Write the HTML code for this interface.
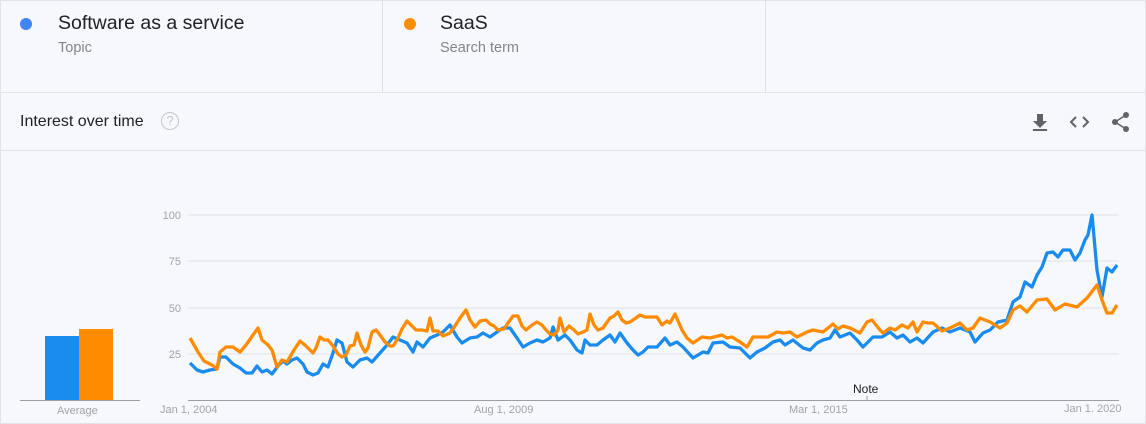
<!DOCTYPE html>
<html><head><meta charset="utf-8"><style>
body{margin:0;width:1146px;height:424px;background:#f6f8fc;font-family:"Liberation Sans",Arial,sans-serif;overflow:hidden;position:relative}
.b{position:absolute}
</style></head><body>
<div class="b" style="left:0;top:0;width:1144px;height:422px;border:1px solid #dfe3ea"></div>
<div class="b" style="left:0;top:92px;width:1146px;height:1px;background:#e2e6ec"></div>
<div class="b" style="left:382px;top:0;width:1px;height:92px;background:#dcdfe4"></div>
<div class="b" style="left:765px;top:0;width:1px;height:92px;background:#dcdfe4"></div>
<div class="b" style="left:0;top:150px;width:1146px;height:1px;background:#dfe3ea"></div>
<div class="b" style="left:20px;top:18px;width:12px;height:12px;border-radius:50%;background:#4285f4"></div>
<div class="b" style="left:58px;top:12px;font-size:19.5px;color:#202124">Software as a service</div>
<div class="b" style="left:58px;top:40px;font-size:14.5px;color:#80868b">Topic</div>
<div class="b" style="left:404px;top:18px;width:12px;height:12px;border-radius:50%;background:#ff8c00"></div>
<div class="b" style="left:440px;top:12px;font-size:19.5px;color:#202124">SaaS</div>
<div class="b" style="left:440px;top:40px;font-size:14.5px;color:#80868b">Search term</div>
<div class="b" style="left:20px;top:113px;font-size:16px;color:#202124">Interest over time</div>
<div class="b" style="left:161px;top:112px;width:16px;height:16px;border:1.5px solid #c4c7cc;border-radius:50%;color:#c4c7cc;font-size:13px;text-align:center;line-height:16px">?</div>
<svg class="b" style="left:0;top:0" width="1146" height="424">
<g fill="#5f6368">
<path d="M1037 114h6v7h4l-7 7-7-7h4z"/><rect x="1033" y="129" width="14" height="2"/>
</g>
<path d="M1076 117l-5 5 5 5M1083 117l5 5-5 5" stroke="#5f6368" stroke-width="2" fill="none"/>
<g fill="#5f6368"><circle cx="1126" cy="115" r="3"/><circle cx="1115" cy="122" r="3"/><circle cx="1126" cy="129" r="3"/></g>
<path d="M1126 115L1115 122L1126 129" stroke="#5f6368" stroke-width="1.5" fill="none"/>
<g stroke="#dfe2e7" stroke-width="1"><line x1="188" y1="215" x2="1119" y2="215"/><line x1="188" y1="261" x2="1119" y2="261"/><line x1="188" y1="308" x2="1119" y2="308"/><line x1="188" y1="354" x2="1119" y2="354"/></g>
<line x1="188" y1="400.5" x2="1119" y2="400.5" stroke="#9aa0a6" stroke-width="1"/>
<line x1="867" y1="396" x2="867" y2="401" stroke="#9aa0a6"/>
<line x1="20" y1="400.5" x2="140" y2="400.5" stroke="#9aa0a6"/>
<g font-size="11" fill="#a0a4aa" text-anchor="end"><text x="181" y="219">100</text><text x="181" y="265">75</text><text x="181" y="312">50</text><text x="181" y="358">25</text></g>
<g font-size="11" fill="#a0a4aa"><text x="160" y="413">Jan 1, 2004</text><text x="474" y="413">Aug 1, 2009</text><text x="789" y="413">Mar 1, 2015</text><text x="1064" y="412">Jan 1. 2020</text><text x="57" y="414">Average</text></g>
<text x="853" y="393" font-size="12" fill="#202124">Note</text>
<rect x="45" y="336" width="34" height="64" fill="#1a8cf0"/>
<rect x="79" y="329" width="34" height="71" fill="#ff8c00"/>
<polyline fill="none" stroke="#1a8cf0" stroke-width="3.3" stroke-linejoin="round" points="190,363 197,370 203,372 210,370 217,369 220,357 226,357 233,364 240,368 246,373 252,373 257,366 262,372 267,370 272,374 278,366 283,361 287,364 292,360 297,358 303,364 307,372 313,375 318,373 323,364 328,367 333,353 337,340 342,343 347,362 353,367 360,360 367,358 372,362 380,353 387,345 393,337 400,340 407,343 413,352 417,342 423,347 430,338 437,335 443,332 450,325 457,337 462,343 470,338 477,337 483,333 490,337 497,332 503,328 510,328 517,338 523,347 530,343 537,340 543,342 550,338 553,327 558,340 565,335 570,340 577,350 582,353 585,340 590,345 597,345 603,340 610,335 615,342 620,333 627,343 633,350 638,355 643,352 648,347 657,347 665,338 670,345 677,342 683,347 693,358 703,352 708,353 713,343 723,342 730,347 740,348 750,358 757,352 765,348 773,342 780,340 785,345 793,340 803,348 810,350 817,343 823,340 830,338 835,330 840,337 850,333 857,340 863,347 873,337 882,337 890,332 897,338 903,335 910,342 917,338 923,343 933,332 942,328 950,332 960,328 970,332 975,342 983,333 990,330 998,322 1007,320 1013,302 1020,297 1025,282 1032,287 1037,275 1042,267 1047,253 1053,252 1058,257 1063,250 1070,250 1075,260 1080,253 1085,240 1088,235 1092,215 1097,270 1102,297 1107,268 1112,272 1117,265"/>
<polyline fill="none" stroke="#ff8c00" stroke-width="3.3" stroke-linejoin="round" points="190,338 198,352 204,361 212,365 217,369 220,352 226,347 233,347 240,352 246,345 253,335 258,328 262,340 268,345 272,350 277,367 282,360 287,362 294,350 300,341 306,346 313,353 316,348 320,337 324,340 328,340 333,346 338,354 342,357 346,355 350,346 354,345 357,333 361,345 365,352 368,348 372,332 376,330 380,335 385,342 390,346 393,346 397,340 402,329 407,321 412,326 416,330 422,330 427,331 430,318 433,331 438,331 443,336 450,333 455,326 460,318 466,310 470,320 475,327 480,321 486,320 490,324 494,326 498,330 504,329 508,323 513,316 518,316 522,326 526,330 532,325 537,322 542,325 546,330 550,334 554,335 558,330 560,318 564,332 569,326 574,330 578,334 583,332 587,330 590,314 594,325 598,330 603,328 610,318 614,316 618,312 622,320 626,323 630,322 636,318 640,315 645,317 650,317 657,317 662,325 667,321 670,323 675,314 682,330 687,338 693,343 702,337 710,338 722,335 727,338 732,337 740,342 747,347 753,337 768,337 777,332 783,333 790,332 797,337 807,332 813,330 823,332 833,324 838,329 843,326 850,328 860,333 867,322 872,320 880,330 883,333 890,328 895,330 902,325 908,328 913,322 917,332 923,322 928,323 933,323 942,331 950,328 960,323 967,330 973,328 980,318 990,322 1000,328 1007,323 1013,310 1020,306 1027,312 1037,300 1047,299 1055,310 1065,304 1077,307 1087,298 1097,285 1102,300 1107,313 1112,313 1117,305"/>
</svg>
</body></html>
